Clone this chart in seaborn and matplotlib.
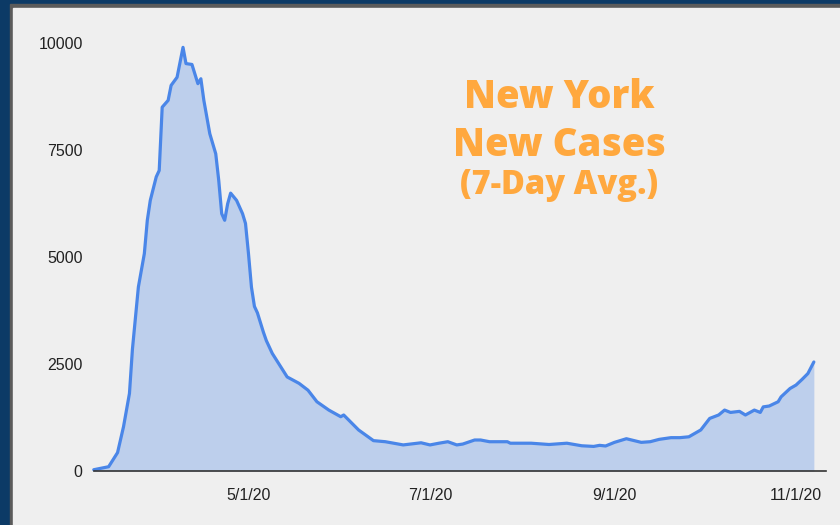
import pandas as pd
import matplotlib
matplotlib.use("Agg")
import matplotlib.pyplot as plt
from matplotlib.patches import Rectangle
import seaborn as sns

# Values (7-day average of new cases, New York)
dates = [
    "2020-03-10", "2020-03-15", "2020-03-18", "2020-03-20", "2020-03-22",
    "2020-03-23", "2020-03-25", "2020-03-27", "2020-03-28", "2020-03-29",
    "2020-03-31", "2020-04-01", "2020-04-02", "2020-04-04", "2020-04-05",
    "2020-04-07", "2020-04-09", "2020-04-10", "2020-04-12", "2020-04-14",
    "2020-04-15", "2020-04-16", "2020-04-18", "2020-04-20", "2020-04-21",
    "2020-04-22", "2020-04-23", "2020-04-24", "2020-04-25", "2020-04-27",
    "2020-04-29", "2020-04-30", "2020-05-01", "2020-05-02", "2020-05-03",
    "2020-05-04", "2020-05-06", "2020-05-07", "2020-05-09", "2020-05-14",
    "2020-05-18", "2020-05-21", "2020-05-24", "2020-05-28", "2020-06-01",
    "2020-06-02", "2020-06-07", "2020-06-12", "2020-06-16", "2020-06-22",
    "2020-06-28", "2020-07-01", "2020-07-04", "2020-07-07", "2020-07-10",
    "2020-07-12", "2020-07-16", "2020-07-18", "2020-07-21", "2020-07-27",
    "2020-07-28", "2020-08-04", "2020-08-10", "2020-08-16", "2020-08-21",
    "2020-08-25", "2020-08-27", "2020-08-29", "2020-09-01", "2020-09-05",
    "2020-09-10", "2020-09-13", "2020-09-16", "2020-09-20", "2020-09-23",
    "2020-09-26", "2020-09-30", "2020-10-03", "2020-10-06", "2020-10-08",
    "2020-10-10", "2020-10-13", "2020-10-15", "2020-10-18", "2020-10-20",
    "2020-10-21", "2020-10-23", "2020-10-26", "2020-10-27", "2020-10-30",
    "2020-11-01", "2020-11-03", "2020-11-05", "2020-11-07",
]
cases = [
    30, 100, 430, 1035, 1815,
    2850, 4305, 5085, 5865, 6330,
    6880, 7030, 8510, 8670, 9020,
    9210, 9910, 9530, 9510, 9060,
    9175, 8670, 7890, 7420, 6800,
    6020, 5865, 6250, 6500, 6330,
    6020, 5790, 5085, 4300, 3850,
    3700, 3250, 3050, 2750, 2200,
    2050, 1890, 1620, 1425, 1270,
    1310, 960, 710, 685, 610,
    660, 610, 650, 685, 610,
    630, 725, 725, 685, 685,
    650, 650, 620, 650, 590,
    575, 600, 585, 670, 755,
    670, 685, 740, 780, 780,
    800, 960, 1230, 1310, 1425,
    1370, 1395, 1310, 1425, 1370,
    1500, 1520, 1620, 1735, 1930,
    2010, 2140, 2280, 2550,
]
tick_dates = ["2020-05-01", "2020-07-01", "2020-09-01", "2020-11-01"]
tick_labels = ["5/1/20", "7/1/20", "9/1/20", "11/1/20"]
y_ticks = [0, 2500, 5000, 7500, 10000]
title_lines = ["New York", "New Cases", "(7-Day Avg.)"]

df = pd.DataFrame({"date": pd.to_datetime(dates), "cases": cases})

line_color = "#4a86e8"
panel_color = "#efefef"
title_color = "#ffa83e"

sns.set_style("white")
plt.rcParams["font.family"] = ["Liberation Sans", "DejaVu Sans"]

fig = plt.figure(figsize=(8.4, 5.25), dpi=100)
fig.patch.set_facecolor("#0c3a66")
fig.patches.append(Rectangle((10 / 840, 0), 1, (525 - 4) / 525,
                             transform=fig.transFigure, color="#5b5b5b", zorder=-10))
fig.patches.append(Rectangle((13 / 840, 0), 1, (525 - 8) / 525,
                             transform=fig.transFigure, color=panel_color, zorder=-9))

ax = fig.add_axes([93.75 / 840, (525 - 471) / 525, 732 / 840, 427.5 / 525])
ax.set_facecolor("none")
ax.set_zorder(2)

sns.lineplot(data=df, x="date", y="cases", color=line_color, linewidth=2.3, ax=ax)
ax.fill_between(df["date"], 0, df["cases"], color=line_color, alpha=0.3, linewidth=0)

ax.set_xlim(pd.Timestamp("2020-03-10"), pd.Timestamp("2020-11-11"))
ax.set_ylim(0, 10000)
ax.set_xticks(pd.to_datetime(tick_dates))
ax.set_xticklabels(tick_labels)
ax.set_yticks(y_ticks)
ax.set_yticklabels([str(v) for v in y_ticks])
ax.tick_params(axis="both", length=0, labelsize=11.5, colors="#222222")
ax.tick_params(axis="x", pad=12)
ax.tick_params(axis="y", pad=8)
ax.set_xlabel("")
ax.set_ylabel("")
for line in ax.lines:
    line.set_clip_on(False)
    line.set_solid_joinstyle("round")

for side in ["top", "right", "left"]:
    ax.spines[side].set_visible(False)
ax.spines["bottom"].set_color("#333333")
ax.spines["bottom"].set_linewidth(1.2)
ax.spines["bottom"].set_zorder(5)

title_y = [98, 145, 185]
title_size = [27.5, 27.5, 23.5]
for text, y, size in zip(title_lines, title_y, title_size):
    fig.text(559 / 840, 1 - y / 525, text, ha="center", va="center",
             fontsize=size, fontweight="heavy", color=title_color,
             family=["Open Sans", "DejaVu Sans"])

fig.savefig("out.png", dpi=100, facecolor=fig.get_facecolor())
